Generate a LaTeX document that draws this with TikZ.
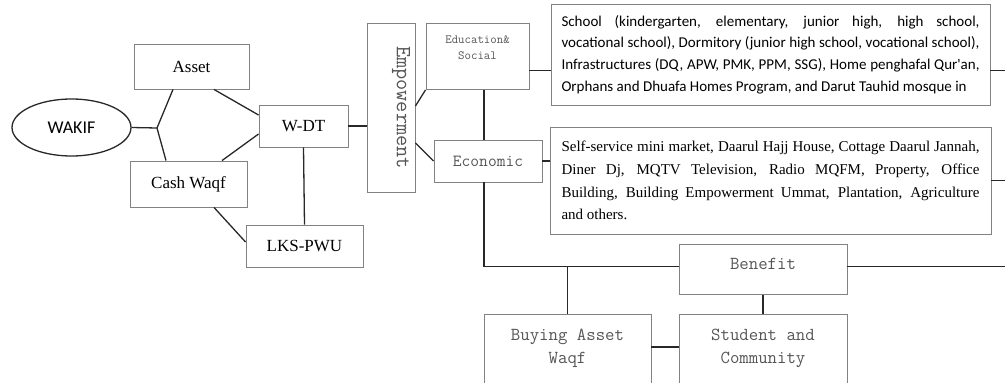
\documentclass[tikz,border=0pt]{standalone}
\usepackage{fontspec}
\setmainfont{Liberation Serif}
\newfontfamily\calfont{Carlito}
\usetikzlibrary{calc,shapes.geometric}
\definecolor{boxgray}{RGB}{130,130,130}
\definecolor{monogray}{RGB}{85,85,85}
\definecolor{linegray}{RGB}{40,40,40}

\begin{document}
\begin{tikzpicture}[x=1pt,y=-1pt,
    box/.style={draw=boxgray,line width=0.9pt,inner sep=0pt,font=\fontsize{17}{20}\selectfont},
    mbox/.style={box,text=monogray,font=\ttfamily\fontsize{18.3}{23}\selectfont},
    intext/.style={text=monogray,align=center,anchor=north,inner sep=0pt,font=\ttfamily\fontsize{18.3}{23}\selectfont},
    con/.style={line width=1.3pt,draw=linegray}]
\useasboundingbox (0,0) rectangle (1005,383);
\clip (0,0) rectangle (1005,383);
\coordinate (edge) at (1005,0);
% left part
\node[draw=linegray,ellipse,line width=1.3pt,minimum width=119,minimum height=57,inner sep=0pt,
    font=\calfont\fontsize{18}{20}\selectfont] (wakif) at (71.5,127.5) {WAKIF};
\coordinate (j) at (157,128);
\node[box,minimum width=115,minimum height=45] (asset) at (191.5,66.5) {Asset};
\node[box,minimum width=117,minimum height=46] (cash) at (188.5,184) {Cash Waqf};
\node[box,minimum width=89,minimum height=42] (wdt) at (303.5,126) {W-DT};
\node[box,minimum width=117,minimum height=42] (lks) at (304.5,246) {LKS-PWU};
\node[box,minimum width=48,minimum height=169] (emp) at (391,107.5) {};
\node[rotate=-90,text=monogray,font=\ttfamily\fontsize{21.7}{22}\selectfont] (emptxt) at (401,107.5) {Empowerment};
% middle
\node[mbox,minimum width=103,minimum height=66,anchor=north,
    label={[intext,yshift=-13pt,font=\ttfamily\fontsize{12.5}{16}\selectfont]north:{Education\&\\Social}}] (edu) at (477.5,23) {};
\node[mbox,minimum width=108,minimum height=42,font=\ttfamily\fontsize{17}{18}\selectfont] (eco) at (488,161) {Economic};
\node[box,minimum width=439,minimum height=101,text width=418,align=justify,
    font=\calfont\fontsize{15}{21.7}\selectfont] (school) at (770.5,54.5)
    {\parfillskip=0pt School (kindergarten, elementary, junior high, high school,\linebreak
    vocational school), Dormitory (junior high school, vocational school),\linebreak
    Infrastructures (DQ, APW, PMK, PPM, SSG), Home penghafal Qur'an,\linebreak
    Orphans and Dhuafa Homes Program, and Darut Tauhid mosque in};
\node[box,minimum width=441,minimum height=107,text width=418,align=justify,
    font=\fontsize{15}{22.7}\selectfont] (ecodesc) at (770.5,180.5)
    {Self-service mini market, Daarul Hajj House, Cottage Daarul Jannah,\linebreak
    Diner Dj, MQTV Television, Radio MQFM, Property, Office\linebreak
    Building, Building Empowerment Ummat, Plantation, Agriculture\linebreak
    and others.};
% bottom
\node[mbox,minimum width=168,anchor=north,text height=25,text depth=25] (benefit) at (763,244) {Benefit};
\node[mbox,minimum width=167,minimum height=100,anchor=north,
    label={[intext,yshift=-15pt]north:{Buying Asset\\Waqf}}] (buying) at (567.5,314) {};
\node[mbox,minimum width=168,minimum height=100,anchor=north,
    label={[intext,yshift=-15pt]north:{Student and\\Community}}] (student) at (763,314) {};
% connectors
\coordinate (eduR) at ([yshift=-14pt]edu.east);
\coordinate (benL) at ([yshift=3pt]benefit.west);
\draw[con] (wakif.east) -- (j) -- ([xshift=-18.5pt]asset.south);
\draw[con] (j) -- ([xshift=-22.5pt]cash.north);
\draw[con] ([xshift=22.5pt]asset.south) -- ([yshift=11pt]wdt.west);
\draw[con] ([xshift=33.5pt]cash.north) -- ([yshift=-8pt]wdt.west);
\draw[con] ([xshift=25.5pt]cash.south) -- ([yshift=4pt]lks.west);
\draw[con] (wdt.south) -- (lks.north);
\draw[con] (wdt.east) -- (wdt.east -| emp.west);
\draw[con] ([yshift=1.5pt]emp.east) -- (edu.south west);
\draw[con] ([yshift=-35.5pt]emp.east) -- (eco.west);
\draw[con] ([xshift=-4pt]eco.north) -- ([xshift=-4pt]edu.south -| eco.north);
\draw[con] (eduR) -- (eduR -| school.west);
\draw[con] (eduR -| school.east) -- (eduR -| edge);
\draw[con] (eco.east) -- (eco.east -| ecodesc.west);
\draw[con] (ecodesc.east) -- (ecodesc.east -| edge);
\draw[con] ([xshift=-4pt]eco.south) |- (benL);
\draw[con] (benL -| benefit.east) -- (benL -| edge);
\draw[con] (buying.north) -- (buying.north |- benL);
\draw[con] (benefit.south) -- (student.north);
\draw[con] ([yshift=-33pt]buying.north east) -- ([yshift=-33pt]student.north west);
\end{tikzpicture}
\end{document}
